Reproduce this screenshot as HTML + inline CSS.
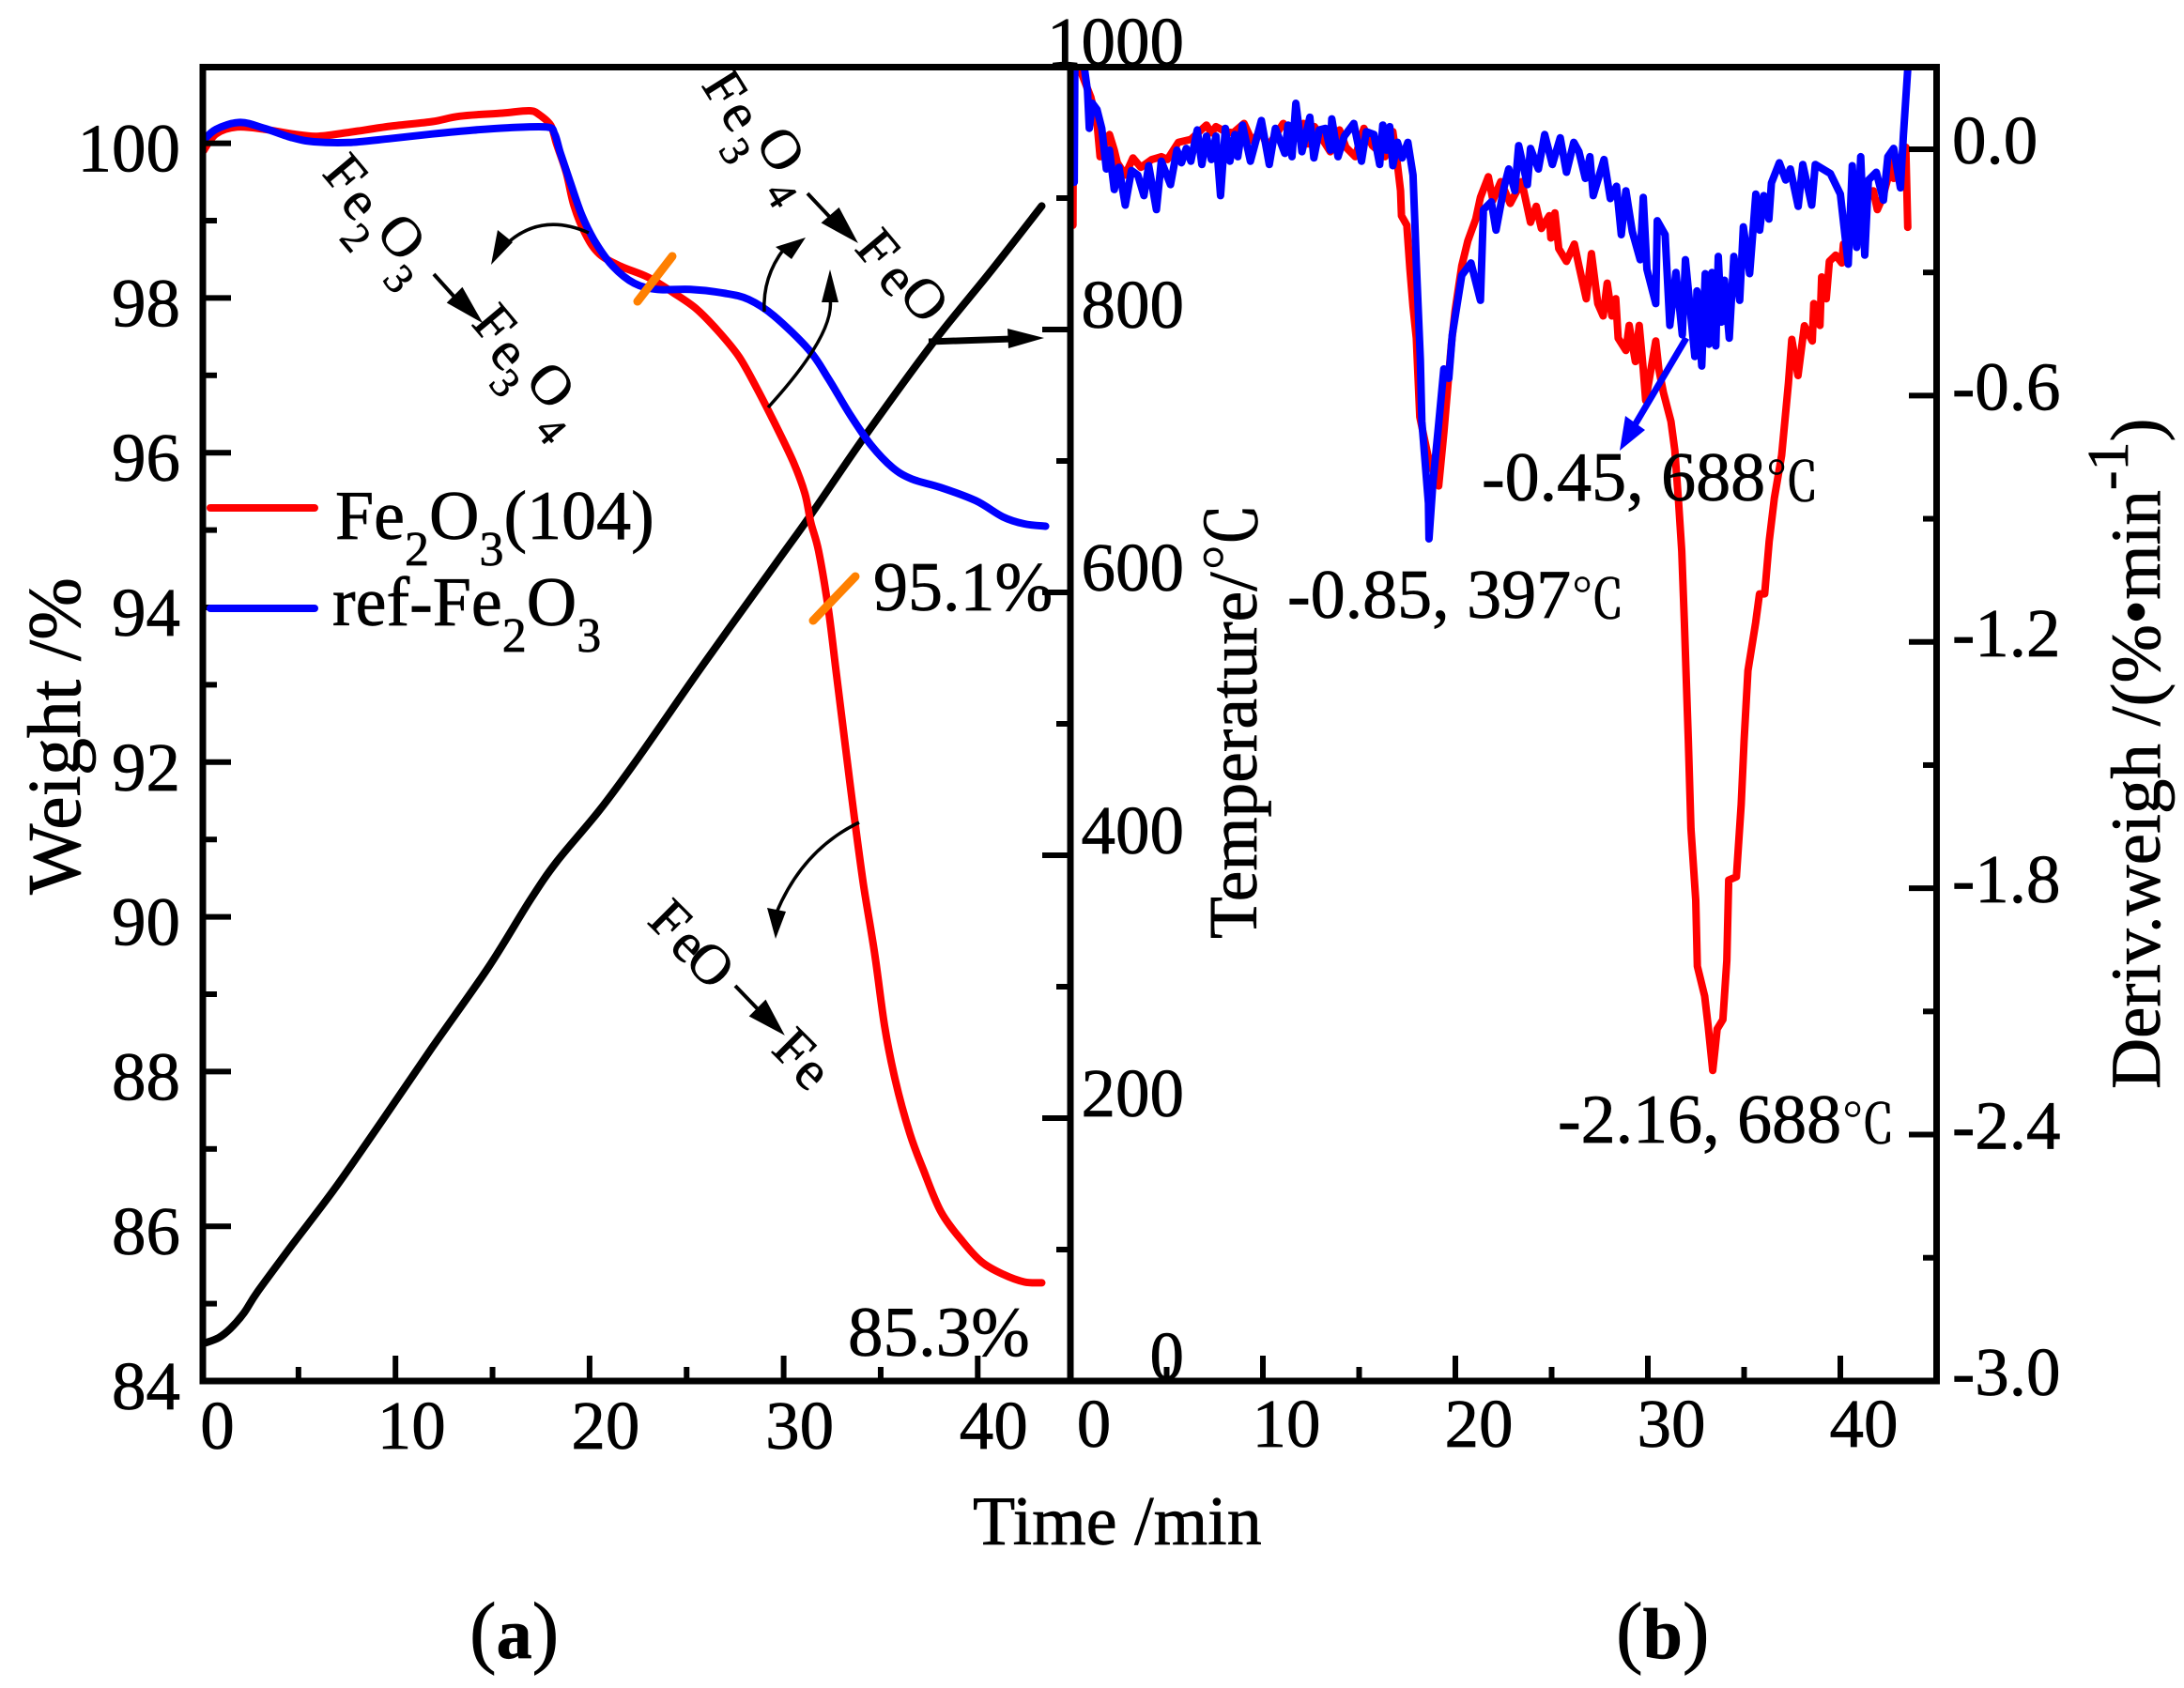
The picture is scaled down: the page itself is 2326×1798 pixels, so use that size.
<!DOCTYPE html>
<html lang="en">
<head>
<meta charset="utf-8">
<title>TG and DTG curves</title>
<style>
html,body{margin:0;padding:0;background:#fff;}
svg{display:block;}
text{font-family:"Liberation Serif","Noto Serif CJK SC",serif;fill:#000;stroke:#000;stroke-width:.7px;}
.g{font-size:60px;text-anchor:middle;dominant-baseline:central;}
.s{font-size:45px;text-anchor:middle;dominant-baseline:central;}
.deg{font-size:57px;font-family:"Noto Serif CJK SC","Liberation Serif",serif;}
</style>
</head>
<body>
<svg id="chart" xmlns="http://www.w3.org/2000/svg" width="2326" height="1798" viewBox="0 0 2326 1798">
<defs>
<clipPath id="plot-a"><rect x="216" y="71" width="924" height="1400"/></clipPath>
<clipPath id="plot-b"><rect x="1140" y="71" width="923" height="1400"/></clipPath>
</defs>
<rect x="0" y="0" width="2326" height="1798" fill="#fff"/>
<g id="series"></g>
<g id="ticks"></g>
<g fill="none" stroke="#000" stroke-width="7">
<rect x="216" y="71.5" width="1846.5" height="1399.5"/>
<line x1="1140" y1="71.5" x2="1140" y2="1471"/>
</g>

<text transform="translate(85 953) rotate(-90)" font-size="80">Weight /%</text>
<text transform="translate(1338 1000) rotate(-90)" font-size="73.5">Temperature/℃</text>
<text transform="translate(2300 1160) rotate(-90)" font-size="75">Deriv.weigh /(%•min<tspan font-size="62" dy="-34">-1</tspan><tspan dy="34">)</tspan></text>
<text x="1036" y="1645" font-size="74">Time /min</text>

<g>
<line x1="224" y1="541" x2="335" y2="541" stroke="#f00" stroke-width="8" stroke-linecap="round"/>
<text x="357" y="574" font-size="74">Fe<tspan font-size="52" dy="28">2</tspan><tspan dy="-28">O</tspan><tspan font-size="52" dy="28">3</tspan><tspan dy="-28">(104)</tspan></text>
<line x1="224" y1="648" x2="335" y2="648" stroke="#00f" stroke-width="8" stroke-linecap="round"/>
<text x="354" y="666" font-size="74">ref-Fe<tspan font-size="52" dy="28">2</tspan><tspan dy="-28">O</tspan><tspan font-size="52" dy="28">3</tspan></text>
</g>

<text x="930" y="650" font-size="74">95.1%</text>
<text x="903" y="1444" font-size="75">85.3%</text>
<text x="1371" y="658" font-size="74">-0.85, 397<tspan class="deg">℃</tspan></text>
<text x="1578" y="533" font-size="74">-0.45, 688<tspan class="deg">℃</tspan></text>
<text x="1659" y="1217" font-size="74">-2.16, 688<tspan class="deg">℃</tspan></text>
<text x="500" y="1766" font-size="86">(<tspan font-weight="bold" font-size="76">a</tspan>)</text>
<text x="1721" y="1766" font-size="86">(<tspan font-weight="bold" font-size="76">b</tspan>)</text>

<g>
<text class="g" transform="translate(368 185) rotate(50)">F</text>
<text class="g" transform="translate(385 215) rotate(50)">e</text>
<text class="s" transform="translate(379 253) rotate(50)">2</text>
<text class="g" transform="translate(428 252) rotate(50)">O</text>
<text class="s" transform="translate(425 297) rotate(50)">3</text>
<path d="M462 292L490 323M509 339L479 322L492 309Z" fill="#000" stroke="#000" stroke-width="4"/>
<text class="g" transform="translate(527 345) rotate(50)">F</text>
<text class="g" transform="translate(543 375) rotate(50)">e</text>
<text class="s" transform="translate(538 408) rotate(50)">3</text>
<text class="g" transform="translate(587 410) rotate(50)">O</text>
<text class="s" transform="translate(587 458) rotate(50)">4</text>
</g>
<g>
<text class="g" transform="translate(772 94) rotate(58)">F</text>
<text class="g" transform="translate(790 122) rotate(58)">e</text>
<text class="s" transform="translate(783 161) rotate(58)">3</text>
<text class="g" transform="translate(832 159) rotate(58)">O</text>
<text class="s" transform="translate(832 207) rotate(58)">4</text>
<path d="M860 206L892 240M909 254L878 237L893 224Z" fill="#000" stroke="#000" stroke-width="4"/>
<text class="g" transform="translate(935 265) rotate(50)">F</text>
<text class="g" transform="translate(957 296) rotate(50)">e</text>
<text class="g" transform="translate(985 318) rotate(50)">O</text>
</g>
<g>
<text class="g" transform="translate(714 980) rotate(45)">F</text>
<text class="g" transform="translate(735 1005) rotate(45)">e</text>
<text class="g" transform="translate(757 1027) rotate(45)">O</text>
<path d="M783 1050L812 1080M831 1098L801 1082L815 1068Z" fill="#000" stroke="#000" stroke-width="4"/>
<text class="g" transform="translate(846 1117) rotate(45)">F</text>
<text class="g" transform="translate(866 1141) rotate(45)">e</text>
</g>

<g>
<path d="M627 248Q575 225 537 262" fill="none" stroke="#000" stroke-width="3.5"/>
<path d="M523 282L530 245L546 258Z" fill="#000"/>
<path d="M814 332Q812 295 835 265" fill="none" stroke="#000" stroke-width="3.5"/>
<path d="M858 253L826 263L843 276Z" fill="#000"/>
<path d="M818 434Q890 355 884 318" fill="none" stroke="#000" stroke-width="3.5"/>
<path d="M884 287L875 322L893 322Z" fill="#000"/>
<path d="M915 876Q855 905 827 972" fill="none" stroke="#000" stroke-width="3.5"/>
<path d="M826 1000L817 967L837 971Z" fill="#000"/>
</g>

<g>
<line x1="989" y1="364" x2="1078" y2="361" stroke="#000" stroke-width="7"/>
<path d="M1112 360L1073 350L1074 371Z" fill="#000"/>
</g>
<path d="M1796 360L1735 463" fill="none" stroke="#00f" stroke-width="7"/>
<path d="M1725 480L1731 443L1752 458Z" fill="#00f"/>
<line x1="679" y1="321" x2="716" y2="273" stroke="#ff8000" stroke-width="9" stroke-linecap="round"/>
<line x1="866" y1="661" x2="911" y2="614" stroke="#ff8000" stroke-width="9" stroke-linecap="round"/>
</svg>
<script>
// Left panel, weight curve of Fe2O3(104)
const tgRedTime = [0.1,0.75,1.83,3.27,4.7,5.96,7.57,9.73,11.9,13.3,15.5,16.9,17.4,18.0,18.3,18.8,19.2,19.8,20.5,21.6,23.0,24.3,25.5,26.6,27.7,28.6,29.5,30.5,31.1,31.4,31.8,32.3,32.7,33.2,33.6,34.1,34.7,35.2,35.75,36.5,37.2,38.1,39.2,40.2,41.3,42.4,43.3];
const tgRedWeight = [99.9,100.12,100.21,100.18,100.12,100.09,100.14,100.22,100.28,100.35,100.39,100.42,100.37,100.23,99.99,99.62,99.19,98.82,98.57,98.41,98.27,98.07,97.86,97.58,97.24,96.84,96.40,95.88,95.47,95.1,94.73,93.99,93.18,92.17,91.37,90.44,89.51,88.59,87.89,87.2,86.73,86.19,85.81,85.54,85.38,85.28,85.27];
// Left panel, weight curve of ref-Fe2O3
const tgBlueTime = [0,0.75,2,3.27,4.7,5.8,7.6,9.7,11.9,14,15.8,17.8,18.2,18.5,19,19.6,20.3,21.2,22.3,23.5,25.2,27,28.2,29.5,31.3,32.3,33.4,34.5,35.6,36.6,38.1,39.9,41.3,42.4,43.5];
const tgBlueWeight = [100.01,100.18,100.27,100.19,100.07,100.02,100.01,100.06,100.12,100.17,100.2,100.21,100.12,99.87,99.5,99.07,98.72,98.41,98.19,98.11,98.11,98.06,97.98,97.77,97.33,96.96,96.5,96.1,95.81,95.66,95.55,95.38,95.17,95.08,95.05];
// Left panel, temperature ramp
const tempTime = [0.2,0.9,1.5,2.2,2.9,4.7,6.9,9.4,11.9,14.8,16.9,18.3,20.5,22.5,25.9,29.5,31.4,34.1,37.7,40.6,43.3];
const tempValue = [29,33,40,52,68,104,147,200,254,315,365,395,434,474,546,620,659,717,790,843,894];
// Right panel, derivative curve of Fe2O3(104)
const dtgRedTime = [0.13,0.16,0.49,1.06,1.38,1.54,2.03,2.28,2.44,2.85,3.25,3.66,4.23,4.72,5.04,5.61,6.26,7.07,7.32,7.56,8.05,8.46,9.02,9.43,9.92,10.24,11.06,11.38,12.11,12.36,12.68,13.5,13.98,14.31,14.8,15.25,15.69,16.34,16.75,16.99,17.15,17.2,17.48,17.64,17.8,17.97,18.15,18.57,19.13,19.41,19.79,19.98,20.33,20.65,21.06,21.3,21.71,21.95,22.36,22.85,23.45,23.9,24.2,24.47,24.88,24.96,25.17,25.37,25.77,26.18,26.42,26.8,27.07,27.4,27.68,27.89,28.13,28.33,28.46,28.86,29.03,29.35,29.55,29.76,29.89,30.41,30.57,30.81,31.2,31.4,31.6,31.76,31.9,32.1,32.24,32.49,32.57,32.95,33.13,33.37,33.5,33.6,33.9,34.1,34.2,34.6,34.85,35.0,35.2,35.6,35.8,36.07,36.3,36.57,36.95,37.3,37.48,37.8,38.13,38.54,38.62,38.94,39.03,39.27,39.43,39.76,40.08,40.16,40.41,40.81,41.14,41.71,41.92,42.2,42.73,42.77,43.4,43.5];
const dtgRedValue = [-0.185,0.25,0.196,0.127,0.066,-0.018,0.036,-0.002,-0.033,-0.063,-0.021,-0.044,-0.025,-0.018,-0.025,0.017,0.024,0.059,0.04,0.055,0.043,0.04,0.063,0.021,0.043,0.005,0.063,0.043,0.063,0.013,0.055,-0.006,0.047,0.005,-0.018,0.051,0.009,-0.018,0.043,-0.037,-0.101,-0.162,-0.185,-0.292,-0.383,-0.46,-0.652,-0.745,-0.82,-0.686,-0.476,-0.395,-0.284,-0.223,-0.17,-0.117,-0.067,-0.124,-0.079,-0.132,-0.079,-0.178,-0.139,-0.193,-0.162,-0.216,-0.155,-0.242,-0.273,-0.231,-0.284,-0.364,-0.254,-0.376,-0.406,-0.326,-0.406,-0.364,-0.46,-0.49,-0.429,-0.517,-0.429,-0.536,-0.612,-0.467,-0.536,-0.593,-0.663,-0.733,-0.862,-0.979,-1.153,-1.44,-1.655,-1.829,-1.99,-2.063,-2.135,-2.244,-2.187,-2.143,-2.12,-1.976,-1.78,-1.772,-1.596,-1.44,-1.27,-1.153,-1.083,-1.083,-0.955,-0.85,-0.745,-0.57,-0.463,-0.551,-0.43,-0.467,-0.376,-0.429,-0.311,-0.364,-0.273,-0.258,-0.277,-0.231,-0.231,-0.193,-0.132,-0.101,-0.147,-0.117,-0.025,-0.071,0.005,-0.19];
// Right panel, derivative curve of ref-Fe2O3
const dtgBlueTime = [0.2,0.23,0.4,0.73,0.89,0.98,1.14,1.38,1.63,1.87,2.03,2.28,2.52,2.85,3.17,3.5,3.82,4.07,4.47,4.72,5.2,5.53,5.77,6.02,6.26,6.59,6.83,7.07,7.32,7.56,7.8,8.05,8.29,8.54,8.7,8.94,9.35,9.92,10.33,10.65,11.14,11.3,11.51,11.71,12.03,12.44,12.65,12.93,13.25,13.5,13.58,13.9,14.23,14.72,15.12,15.37,15.77,16.07,16.23,16.42,16.59,16.75,16.99,17.24,17.53,17.8,17.89,17.97,18.18,18.26,18.6,18.63,18.83,19.1,19.4,19.66,19.84,20.33,20.81,21.3,21.46,21.87,22.11,22.52,22.77,23.09,23.29,23.74,23.9,24.31,24.64,25.04,25.45,25.77,26.15,26.42,26.75,26.99,27.16,27.72,28.05,28.37,28.62,28.86,29.19,29.6,29.76,29.95,30.41,30.49,30.9,31.14,31.46,31.79,31.95,32.44,32.55,32.8,32.98,33.17,33.33,33.53,33.66,33.82,33.98,34.23,34.47,34.77,34.96,35.29,35.61,35.81,36.02,36.29,36.42,36.83,37.16,37.4,37.81,38.05,38.51,38.7,39.48,40.0,40.41,40.62,40.85,41.06,41.27,41.46,41.87,42.24,42.47,42.77,43.12,43.28,43.5,43.58];
const dtgBlueValue = [-0.08,0.19,0.25,0.196,0.143,0.051,0.112,0.097,0.051,-0.048,-0.002,-0.098,-0.044,-0.136,-0.052,-0.063,-0.113,-0.04,-0.147,-0.029,-0.086,-0.002,-0.033,0.002,-0.029,0.047,-0.037,0.032,-0.025,0.032,-0.113,0.051,-0.029,0.036,-0.018,0.059,-0.029,0.07,-0.037,0.051,-0.01,0.059,-0.018,0.112,-0.006,0.078,-0.021,0.047,0.051,-0.002,0.074,-0.018,0.032,0.063,-0.029,0.043,0.036,-0.037,0.059,-0.002,0.055,-0.04,0.017,-0.021,0.017,-0.063,-0.17,-0.277,-0.512,-0.663,-0.862,-0.949,-0.815,-0.686,-0.535,-0.558,-0.452,-0.307,-0.277,-0.368,-0.147,-0.128,-0.197,-0.094,-0.048,-0.101,0.009,-0.086,0.002,-0.048,0.036,-0.037,0.028,-0.056,0.017,-0.006,-0.071,-0.018,-0.113,-0.025,-0.12,-0.09,-0.208,-0.101,-0.2,-0.269,-0.117,-0.292,-0.376,-0.174,-0.208,-0.429,-0.3,-0.452,-0.269,-0.505,-0.345,-0.528,-0.303,-0.475,-0.3,-0.479,-0.261,-0.421,-0.319,-0.46,-0.261,-0.368,-0.189,-0.303,-0.109,-0.197,-0.113,-0.17,-0.082,-0.033,-0.075,-0.048,-0.139,-0.037,-0.136,-0.037,-0.059,-0.109,-0.28,-0.04,-0.239,-0.018,-0.258,-0.075,-0.056,-0.124,-0.018,0.002,-0.094,0.036,0.196,0.25];
// Tick labels
const leftWeightTicks = [84,86,88,90,92,94,96,98,100];
const leftWeightLabels = ["84","86","88","90","92","94","96","98","100"];
const tempTicks = [0,200,400,600,800,1000];
const tempLabels = ["0","200","400","600","800","1000"];
const derivTicks = [0,-0.6,-1.2,-1.8,-2.4,-3.0];
const derivLabels = ["0.0","-0.6","-1.2","-1.8","-2.4","-3.0"];
const timeTicks = [0,10,20,30,40];
const timeLabels = ["0","10","20","30","40"];

// Axis functions
function xLeft(t){return 214.5+20.67*t;}
function xRight(t){return 1140+20.5*t;}
function yWeight(w){return 1471-(w-84)*82.4;}
function yTemp(c){return 1471-c*1.4;}
function yDeriv(v){return 159-v*437.3;}

const NS='http://www.w3.org/2000/svg';
const seriesLayer=document.getElementById('series');
const tickLayer=document.getElementById('ticks');

function pathFrom(pts,smooth){
  let d='M'+pts[0][0].toFixed(1)+' '+pts[0][1].toFixed(1);
  for(let i=0;i<pts.length-1;i++){
    const p1=pts[i],p2=pts[i+1];
    if(!smooth){d+='L'+p2[0].toFixed(1)+' '+p2[1].toFixed(1);continue;}
    const p0=pts[Math.max(i-1,0)],p3=pts[Math.min(i+2,pts.length-1)];
    const c1x=p1[0]+(p2[0]-p0[0])/6,c1y=p1[1]+(p2[1]-p0[1])/6;
    const c2x=p2[0]-(p3[0]-p1[0])/6,c2y=p2[1]-(p3[1]-p1[1])/6;
    d+='C'+c1x.toFixed(1)+' '+c1y.toFixed(1)+' '+c2x.toFixed(1)+' '+c2y.toFixed(1)+' '+p2[0].toFixed(1)+' '+p2[1].toFixed(1);
  }
  return d;
}
function drawCurve(xs,ys,fx,fy,color,width,clip,smooth){
  const pts=xs.map(function(t,i){return [fx(t),fy(ys[i])];});
  const p=document.createElementNS(NS,'path');
  p.setAttribute('d',pathFrom(pts,smooth));
  p.setAttribute('fill','none');
  p.setAttribute('stroke',color);
  p.setAttribute('stroke-width',width);
  p.setAttribute('stroke-linejoin','round');
  p.setAttribute('stroke-linecap','round');
  p.setAttribute('clip-path','url(#'+clip+')');
  seriesLayer.appendChild(p);
  return p;
}
function drawTick(x1,y1,x2,y2){
  const l=document.createElementNS(NS,'line');
  l.setAttribute('x1',x1);l.setAttribute('y1',y1);l.setAttribute('x2',x2);l.setAttribute('y2',y2);
  l.setAttribute('stroke','#000');
  l.setAttribute('stroke-width','6');
  
  
  tickLayer.appendChild(l);
}
function drawLabel(str,x,y,anchor){
  const t=document.createElementNS(NS,'text');
  t.setAttribute('x',x);t.setAttribute('y',y);
  t.setAttribute('text-anchor',anchor);
  t.setAttribute('font-size','73');
  t.textContent=str;
  
  
  tickLayer.appendChild(t);
}

const curveTemp=drawCurve(tempTime,tempValue,xLeft,yTemp,'#000',8,'plot-a',true);


const curveTgRed=drawCurve(tgRedTime,tgRedWeight,xLeft,yWeight,'#f00',8,'plot-a',true);


const curveTgBlue=drawCurve(tgBlueTime,tgBlueWeight,xLeft,yWeight,'#00f',8,'plot-a',true);


const curveDtgRed=drawCurve(dtgRedTime,dtgRedValue,xRight,yDeriv,'#f00',8,'plot-b',false);


const curveDtgBlue=drawCurve(dtgBlueTime,dtgBlueValue,xRight,yDeriv,'#00f',8,'plot-b',false);



// Left weight axis: ticks point inward
leftWeightTicks.forEach(function(w,i){
  const y=yWeight(w);
  drawTick(216,y,246,y);
  if(i<leftWeightTicks.length-1){drawTick(216,yWeight(w+1),231,yWeight(w+1));}
  drawLabel(leftWeightLabels[i],192,y+30,'end');
});
// Temperature axis: ticks on the left of the line, labels on the right
tempTicks.forEach(function(c,i){
  const y=yTemp(c);
  drawTick(1110,y,1140,y);
  if(i<tempTicks.length-1){drawTick(1125,yTemp(c+100),1140,yTemp(c+100));}
  drawLabel(tempLabels[i],1261,y-2,'end');
});
// Derivative axis: ticks inward from the right
derivTicks.forEach(function(v,i){
  const y=yDeriv(v);
  drawTick(2033,y,2063,y);
  if(i<derivTicks.length-1){drawTick(2048,yDeriv(v-0.3),2063,yDeriv(v-0.3));}
  drawLabel(derivLabels[i],2079,y+15,'start');
});
// Time axes
timeTicks.forEach(function(t,i){
  const xa=xLeft(t), xb=xRight(t);
  if(i>0){drawTick(xa,1471,xa,1444);drawTick(xb,1471,xb,1444);}
  if(i<timeTicks.length-1){
    drawTick(xLeft(t+5),1471,xLeft(t+5),1456);
    drawTick(xRight(t+5),1471,xRight(t+5),1456);
  }
  drawLabel(timeLabels[i],xa+17,1543,'middle');
  drawLabel(timeLabels[i],xb+25,1541,'middle');
});
</script>
</body>
</html>
